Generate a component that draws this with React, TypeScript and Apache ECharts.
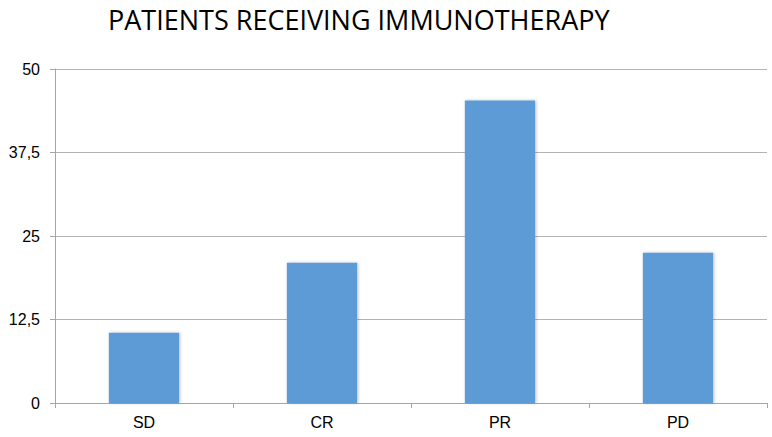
import React, { useEffect, useRef } from "react";
import * as echarts from "echarts";

const categories = ["SD", "CR", "PR", "PD"];
const values = [10.5, 21, 45.3, 22.5];
const yTicks = [0, 12.5, 25, 37.5, 50];
const titleText = "PATIENTS RECEIVING IMMUNOTHERAPY";

export default function App() {
  const ref = useRef<HTMLDivElement>(null);
  useEffect(() => {
    const chart = echarts.init(ref.current!, null, { renderer: "svg" });
    chart.setOption({
      animation: false,
      backgroundColor: "#ffffff",
      title: {
        text: titleText,
        left: 103,
        top: 1,
        textStyle: {
          fontFamily: "Open Sans",
          fontWeight: "normal",
          fontSize: 27,
          color: "#000000",
        },
      },
      grid: { left: 55, right: 5, top: 69, bottom: 34 },
      xAxis: {
        type: "category",
        data: categories,
        boundaryGap: true,
        axisLine: { show: true, lineStyle: { color: "#a6a6a6", width: 1 } },
        axisTick: { show: true, length: 5, lineStyle: { color: "#a6a6a6" } },
        axisLabel: {
          margin: 11,
          fontFamily: "Liberation Sans",
          fontSize: 16,
          color: "#000000",
        },
        splitLine: { show: false },
      },
      yAxis: {
        type: "value",
        min: yTicks[0],
        max: yTicks[yTicks.length - 1],
        interval: 12.5,
        axisLine: { show: true, lineStyle: { color: "#a6a6a6", width: 1 } },
        axisTick: { show: true, length: 5, lineStyle: { color: "#a6a6a6" } },
        axisLabel: {
          margin: 15,
          fontFamily: "Liberation Sans",
          fontSize: 16,
          color: "#000000",
          formatter: (v: number) => String(v).replace(".", ","),
        },
        splitLine: { show: true, lineStyle: { color: "#b3b3b3", width: 1 } },
      },
      series: [
        {
          type: "bar",
          data: values,
          barWidth: "39.5%",
          itemStyle: {
            color: "#5b9bd5",
            shadowColor: "rgba(0,0,0,0.25)",
            shadowBlur: 3,
            shadowOffsetX: 1,
            shadowOffsetY: 0,
          },
        },
      ],
    });
    return () => chart.dispose();
  }, []);
  return (
    <div
      ref={ref}
      style={{ position: "fixed", left: 0, top: 0, width: 772, height: 437 }}
    />
  );
}
